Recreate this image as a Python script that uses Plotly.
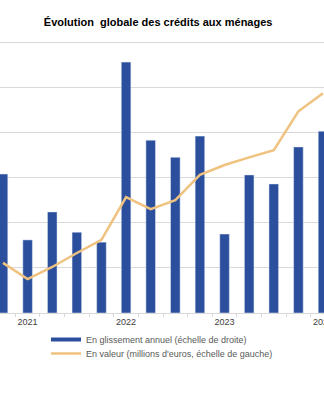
import plotly.graph_objects as go

# Quarterly categories
quarters = ["T4 2020", "T1 2021", "T2 2021", "T3 2021", "T4 2021",
            "T1 2022", "T2 2022", "T3 2022", "T4 2022",
            "T1 2023", "T2 2023", "T3 2023", "T4 2023", "T1 2024"]
# Glissement annuel (%), right scale
glissement = [3.08, 1.62, 2.24, 1.79, 1.57, 5.56, 3.83, 3.45, 3.92,
              1.75, 3.06, 2.86, 3.68, 4.03]
# Encours en valeur (millions d'euros), left scale
valeur = [1511, 1475, 1502, 1533, 1562, 1657, 1630, 1650, 1706,
          1728, 1745, 1761, 1847, 1887]

xs = list(range(len(quarters)))
tick_idx = [i for i, q in enumerate(quarters) if q.startswith("T1")]
tick_txt = [quarters[i].split()[1] for i in tick_idx]

BLUE = "#2B4F9C"
TAN = "#F0C27F"
GRID = "#D9D9D9"
FONT = "Liberation Sans, Arial, sans-serif"

fig = go.Figure()
fig.add_trace(go.Bar(x=xs, y=glissement, marker_color=BLUE, width=0.39,
                     showlegend=False, yaxis="y",
                     name="En glissement annuel (échelle de droite)"))
# legend proxy for the bar series
fig.add_trace(go.Scatter(x=[None], y=[None], mode="lines",
                         line=dict(color=BLUE, width=4),
                         name="En glissement annuel (échelle de droite)",
                         yaxis="y", legend="legend"))
fig.add_trace(go.Scatter(x=xs, y=valeur, mode="lines",
                         line=dict(color=TAN, width=2.5),
                         name="En valeur (millions d'euros, échelle de gauche)",
                         yaxis="y2", legend="legend2"))

leg_common = dict(orientation="v", x=0.142, xanchor="left", yanchor="top",
                  font=dict(size=9, color="#595959"),
                  bgcolor="rgba(0,0,0,0)", itemwidth=30)

fig.update_layout(
    width=324, height=400,
    margin=dict(l=0, r=0, t=40, b=87, autoexpand=False),
    paper_bgcolor="white", plot_bgcolor="white",
    font=dict(family=FONT, size=9, color="#404040"),
    title=dict(text="<b>Évolution  globale des crédits aux ménages</b>",
               x=0.488, xanchor="center", y=1 - 22 / 400, yanchor="middle",
               font=dict(family=FONT, size=11, color="#000000")),
    xaxis=dict(range=[-0.122, 13.04], tickvals=tick_idx, ticktext=tick_txt,
               showgrid=False, showline=True, linecolor=GRID, linewidth=1,
               ticks="", tickfont=dict(size=9, color="#404040"),
               ticklabeloverflow="allow", automargin=False,
               minor=dict(tickmode="linear", tick0=0.5, dtick=1, ticks="outside",
                          ticklen=3, tickcolor=GRID, showgrid=False),
               zeroline=False),
    yaxis=dict(range=[0, 6.05], dtick=1, side="right", showgrid=True,
               gridcolor=GRID, gridwidth=1, showticklabels=False,
               zeroline=False, ticks="", automargin=False),
    yaxis2=dict(range=[1400, 2005], dtick=100, overlaying="y", side="left",
                showgrid=False, showticklabels=False, zeroline=False, ticks="",
                automargin=False),
    legend=dict(y=-0.044, **leg_common),
    legend2=dict(y=-0.0952, **leg_common),
    bargap=0.6,
)

fig.write_html("out.html")
